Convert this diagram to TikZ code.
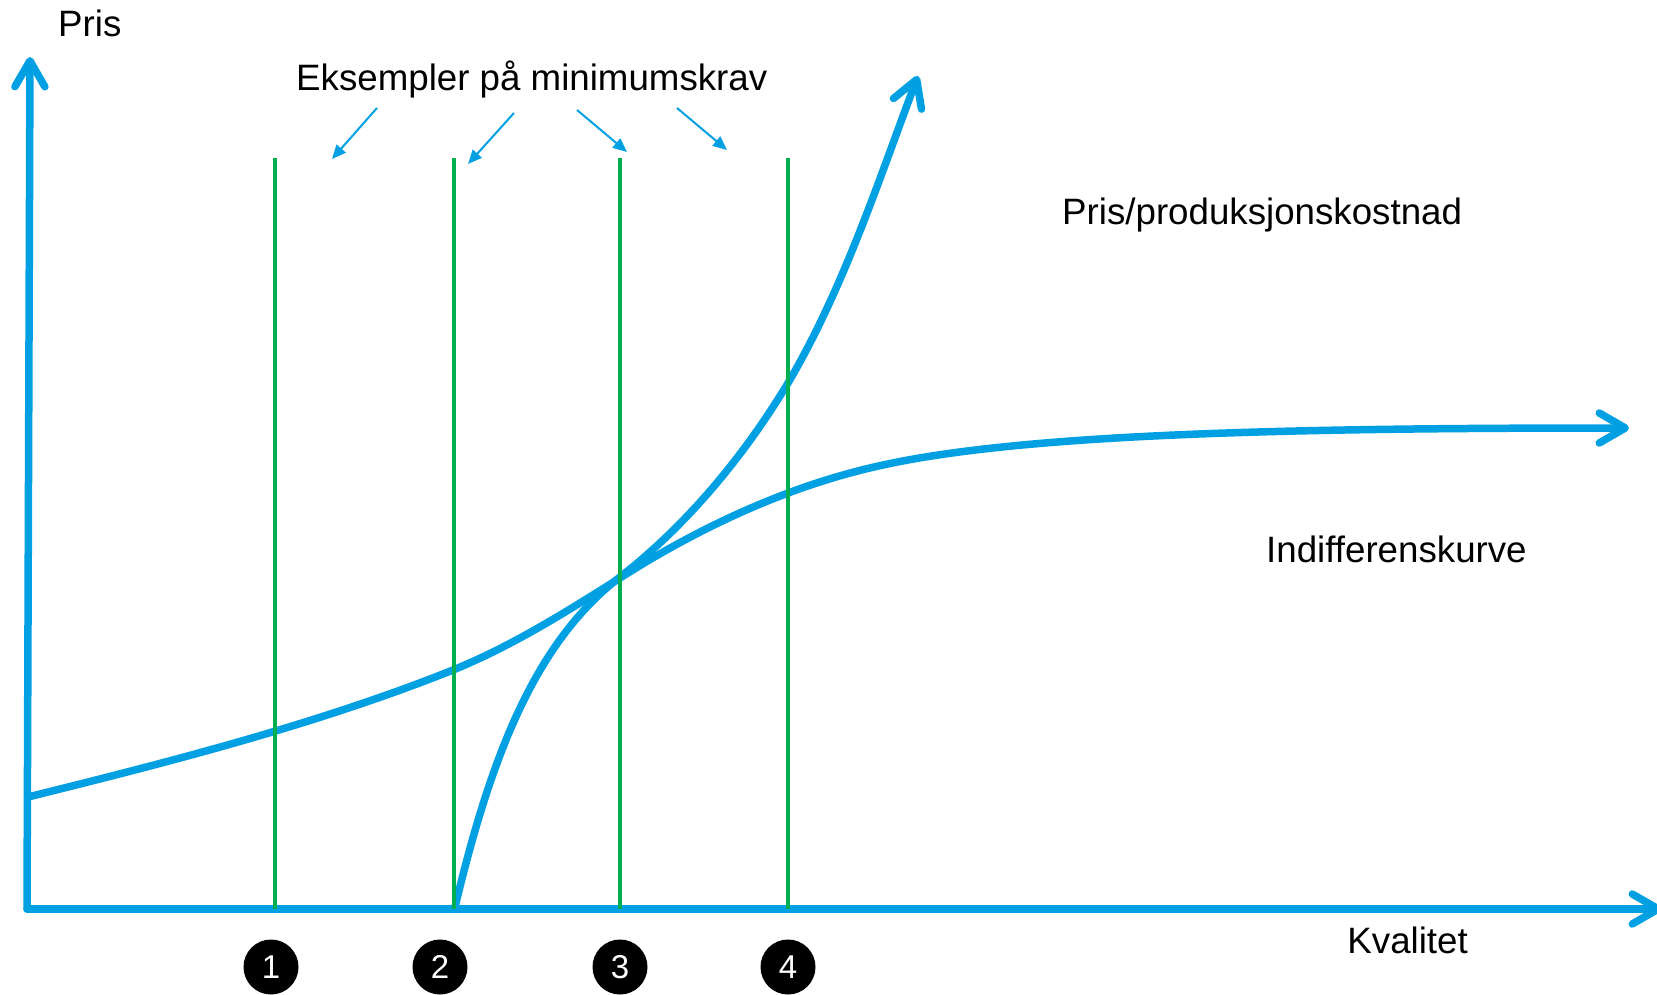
\documentclass[tikz,border=0pt]{standalone}
\usepackage{fontspec}
\setmainfont{Liberation Sans}
\usetikzlibrary{arrows.meta}
\definecolor{axblue}{RGB}{0,160,227}
\definecolor{reqgreen}{RGB}{0,176,80}
\begin{document}
\begin{tikzpicture}[x=1pt,y=-1pt,
  bigline/.style={draw=axblue,line width=7.5pt,line cap=round,line join=round},
  bigarrow/.style={-{Straight Barb[length=26pt,width=30pt,round]}},
  reqline/.style={draw=reqgreen,line width=3.5pt},
  pointer/.style={draw=axblue,line width=2pt,-{Triangle[length=14pt,width=12pt]}},
  lbl/.style={inner sep=0pt,font=\fontsize{36.7}{44}\selectfont},
  numcircle/.style={circle,fill=black,minimum size=55pt,inner sep=0pt,text=white,font=\fontsize{33}{36}\selectfont}
]
\useasboundingbox (0,0) rectangle (1657,995);

% axes
\coordinate (O) at (27,909);
\coordinate (Ytip) at (30,57);
\coordinate (Xtip) at (1662,909);
\draw[bigline,bigarrow] (O) -- (Ytip);
\draw[bigline,bigarrow] (O) -- (Xtip);

% indifference curve
\coordinate (i0) at (28,797);
\coordinate (i1) at (453,670);
\coordinate (i2) at (620,578);
\coordinate (i3) at (883,465);
\coordinate (i4) at (1629,428);
\draw[bigline,bigarrow] (i0)
  .. controls (169,762) and (318,724) .. (i1)
  .. controls (512,646) and (566,612) .. (i2)
  .. controls (700,527) and (790,485) .. (i3)
  .. controls (1029,433) and (1300,428) .. (i4);

% price / production cost curve
\coordinate (c0) at (455,907);
\coordinate (c1) at (620,577);
\coordinate (c2) at (788,383);
\coordinate (c3) at (918,76);
\draw[bigline,bigarrow] (c0)
  .. controls (490,761) and (533,644) .. (c1)
  .. controls (687,525) and (744,456) .. (c2)
  .. controls (844,288) and (879,179) .. (c3);

% requirement lines
\foreach \i/\x in {1/275,2/454,3/620,4/788}{
  \coordinate (g\i top) at (\x,158);
  \coordinate (g\i bot) at (\x,909);
  \draw[reqline] (g\i top) -- (g\i bot);
}

% numbered circles
\node[numcircle] (n1) at (271,967) {1};
\node[numcircle] (n2) at (440,967) {2};
\node[numcircle] (n3) at (620,967) {3};
\node[numcircle] (n4) at (788,967) {4};

% labels
\node[lbl,anchor=base west] (pris) at (58,37) {Pris};
\node[lbl,anchor=base west] (eks) at (296,91) {Eksempler på minimumskrav};
\node[lbl,anchor=base west] (prod) at (1062,225) {Pris/produksjonskostnad};
\node[lbl,anchor=base west] (indiff) at (1266,562) {Indifferenskurve};
\node[lbl,anchor=base east] (kval) at (1468,953) {Kvalitet};

% pointers
\coordinate (p1s) at (377,108); \coordinate (p1e) at (332,159);
\coordinate (p2s) at (514,113); \coordinate (p2e) at (468,164);
\coordinate (p3s) at (577,110); \coordinate (p3e) at (627,152);
\coordinate (p4s) at (677,108); \coordinate (p4e) at (727,150);
\draw[pointer] (p1s) -- (p1e);
\draw[pointer] (p2s) -- (p2e);
\draw[pointer] (p3s) -- (p3e);
\draw[pointer] (p4s) -- (p4e);
\end{tikzpicture}
\end{document}
